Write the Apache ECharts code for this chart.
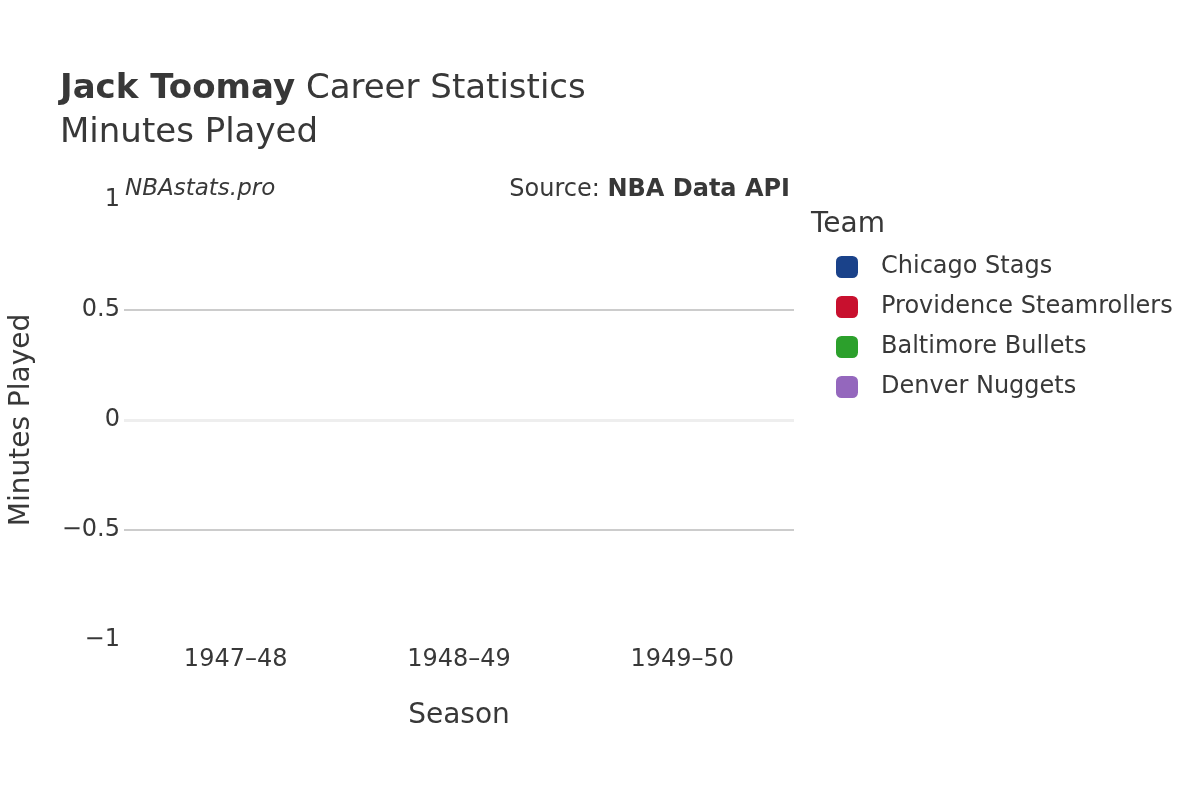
<!DOCTYPE html>
<html>
<head>
<meta charset="utf-8">
<script src="https://cdn.jsdelivr.net/npm/echarts@6/dist/echarts.min.js"></script>
<style>html,body{margin:0;padding:0;background:#fff}#chart{width:1200px;height:800px}</style>
</head>
<body>
<div id="chart"></div>
<script>
var seasons = ['1947–48', '1948–49', '1949–50'];
var teams = ['Chicago Stags', 'Providence Steamrollers', 'Baltimore Bullets', 'Denver Nuggets'];
var teamColors = ['#1a428a', '#c8102e', '#2ca02c', '#9467bd'];
var minutes = {
    'Chicago Stags': [0, null, null],
    'Providence Steamrollers': [0, 0, null],
    'Baltimore Bullets': [null, 0, 0],
    'Denver Nuggets': [null, null, 0]
};
var yTicks = [-1, -0.5, 0, 0.5, 1];

var font = '"DejaVu Sans", sans-serif';
var txt = '#383838';
var myChart = echarts.init(document.getElementById('chart'));

var series = teams.map(function (t, i) {
    var s = {
        name: t,
        type: 'bar',
        stack: 'total',
        barWidth: '80%',
        data: minutes[t],
        itemStyle: { color: teamColors[i] }
    };
    if (i === 0) {
        s.markLine = {
            silent: true, symbol: 'none', label: { show: false },
            lineStyle: { color: '#eeeeee', width: 3, type: 'solid' },
            data: [{ yAxis: 0 }]
        };
    }
    return s;
});

var option = {
    animation: false,
    textStyle: { fontFamily: font },
    title: [{
        left: 55, top: 67,
        text: '{b|Jack Toomay} Career Statistics',
        textStyle: { fontSize: 34, color: txt, fontWeight: 'normal', fontFamily: font,
            rich: { b: { fontSize: 34, fontWeight: 'bold', color: txt, fontFamily: font } } }
    }, {
        left: 55, top: 111,
        text: 'Minutes Played',
        textStyle: { fontSize: 34, color: txt, fontWeight: 'normal', fontFamily: font }
    }],
    graphic: [{
        type: 'text', left: 125, top: 178,
        style: { text: 'NBAstats.pro', font: 'italic 23px "DejaVu Sans", sans-serif', fill: txt }
    }, {
        type: 'text', right: 410, top: 178,
        style: { text: '{n|Source: }{b|NBA Data API}', fill: txt,
            rich: { n: { fontSize: 24, fontFamily: font, color: txt },
                    b: { fontSize: 24, fontFamily: font, fontWeight: 'bold', color: txt } } }
    }, {
        type: 'text', left: 811, top: 211,
        style: { text: 'Team', font: '28px "DejaVu Sans", sans-serif', fill: txt }
    }],
    legend: {
        orient: 'vertical', left: 831, top: 250,
        itemWidth: 22, itemHeight: 22, itemGap: 16,
        icon: 'roundRect',
        textStyle: { fontSize: 24, color: txt, padding: [0, 0, 0, 18] },
        data: teams
    },
    grid: { left: 120, right: 406, top: 200, bottom: 160 },
    xAxis: {
        type: 'category', data: seasons,
        name: 'Season', nameLocation: 'middle', nameGap: 62,
        nameTextStyle: { fontSize: 28, color: txt },
        axisLine: { show: false }, axisTick: { show: false },
        axisLabel: { fontSize: 24, color: txt, margin: 8 }
    },
    yAxis: {
        type: 'value', min: -1, max: 1, interval: 0.5,
        name: 'Minutes Played', nameLocation: 'middle', nameGap: 88,
        nameTextStyle: { fontSize: 28, color: txt },
        axisLine: { show: false }, axisTick: { show: false },
        axisLabel: { fontSize: 24, color: txt, margin: 4,
            formatter: function (v) { return String(v).replace('-', '−'); } },
        splitLine: { lineStyle: { color: ['transparent', '#bbbbbb', 'transparent', '#bbbbbb', 'transparent'], width: 1.5 } }
    },
    series: series
};

option && myChart.setOption(option);
</script>
</body>
</html>
